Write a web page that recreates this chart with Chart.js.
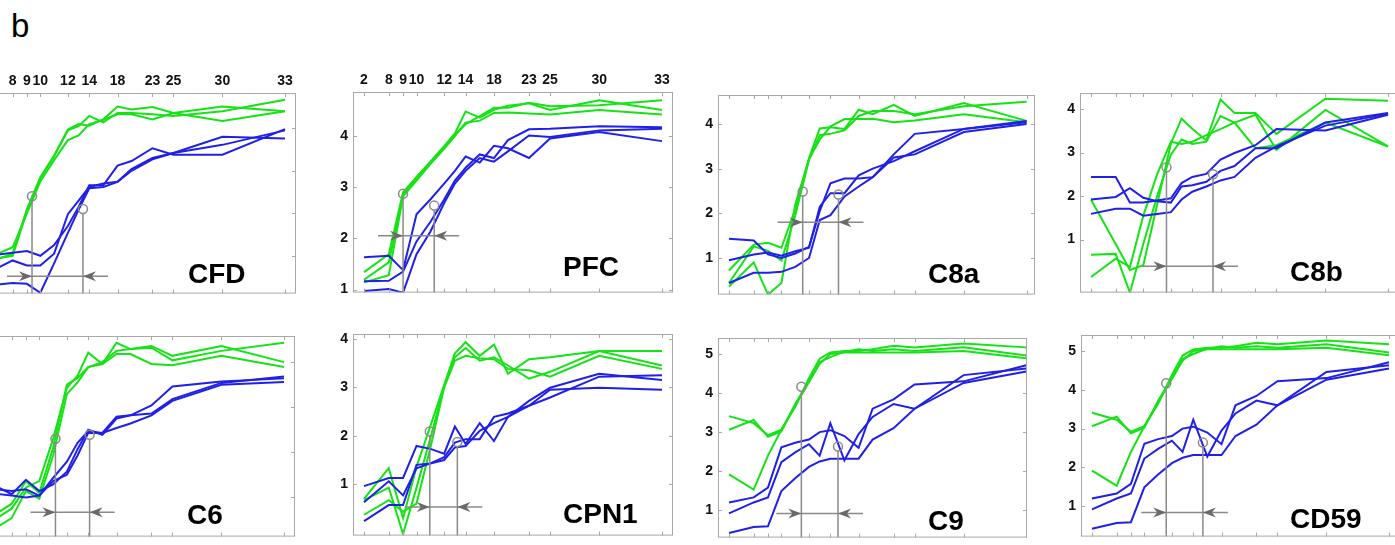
<!DOCTYPE html>
<html lang="en">
<head>
<meta charset="UTF-8" />
<title>Panel b</title>
<script src="https://cdn.jsdelivr.net/npm/chart.js@4.4.0/dist/chart.umd.min.js"></script>
<style>
  html, body { margin: 0; padding: 0; background: #fff; }
  body { position: relative; width: 1395px; height: 545px; overflow: hidden;
         font-family: "Liberation Sans", Arial, Helvetica, sans-serif; }
  .panel { position: absolute; }
  .tag { position: absolute; font-weight: bold; font-size: 28px; line-height: 28px; color: #000; white-space: nowrap; }
  #fig-letter { position: absolute; left: 11px; top: 9px; font-size: 33px; line-height: 33px; color: #000; }
</style>
</head>
<body>
<div id="fig-letter">b</div>
<script>
// sampled ages, and where each one sits on the figure's stretched age axis (0-100)
const ages = [2, 8, 9, 10, 11, 12, 13, 14, 16, 18, 20, 23, 25, 30, 33];
const agePos = [3.44, 11.18, 15.65, 19.85, 24.17, 28.49, 31.84, 35.19, 39.6, 44.05, 48.43, 55.0, 61.58, 76.93, 96.56];
const tickAges = [2, 8, 9, 10, 12, 14, 18, 23, 25, 30, 33];

// three green and three blue curves per gene
const cfdGreen = [
  [0.90, 1.00, 2.05, 2.82, 3.34, 3.97, 4.10, 4.06, 4.21, 4.51, 4.44, 4.50, 4.36, 4.51, 4.40],
  [0.85, 1.05, 2.10, 2.85, 3.36, 3.95, 4.05, 4.29, 4.14, 4.36, 4.36, 4.33, 4.29, 4.40, 4.67],
  [0.95, 1.20, 2.00, 2.75, 3.25, 3.72, 3.83, 4.10, 4.20, 4.33, 4.33, 4.21, 4.36, 4.17, 4.40]
];
const cfdBlue = [
  [1.00, 1.07, 1.11, 1.00, 1.25, 1.70, 2.15, 2.66, 2.66, 3.12, 3.23, 3.53, 3.38, 3.38, 3.98],
  [0.60, 0.89, 0.77, 0.77, 1.05, 1.98, 2.30, 2.62, 2.70, 2.74, 3.04, 3.30, 3.42, 3.61, 3.95],
  [0.30, 0.36, 0.34, 0.13, 0.82, 1.54, 2.08, 2.59, 2.62, 2.74, 3.00, 3.27, 3.42, 3.80, 3.76]
];
const pfcGreen = [
  [1.34, 1.69, 2.90, 3.20, 3.50, 3.80, 4.05, 4.48, 4.36, 4.51, 4.59, 4.64, 4.51, 4.70, 4.51],
  [1.19, 1.53, 2.86, 3.17, 3.48, 3.78, 4.02, 4.23, 4.39, 4.55, 4.55, 4.65, 4.58, 4.60, 4.70],
  [1.14, 1.28, 2.82, 3.13, 3.45, 3.75, 4.00, 4.26, 4.30, 4.45, 4.46, 4.44, 4.42, 4.51, 4.42]
];
const pfcBlue = [
  [1.63, 1.66, 1.38, 2.47, 2.76, 3.07, 3.32, 3.60, 3.48, 3.81, 3.76, 3.57, 3.95, 4.08, 3.90],
  [1.16, 1.17, 1.35, 1.94, 2.32, 2.76, 3.13, 3.38, 3.64, 3.57, 3.92, 4.13, 4.14, 4.19, 4.17],
  [0.97, 1.01, 0.94, 1.69, 2.13, 2.69, 3.07, 3.32, 3.57, 3.50, 3.70, 4.01, 3.98, 4.11, 4.14]
];
const c8aGreen = [
  [0.72, 1.30, 1.34, 1.23, 2.09, 3.24, 3.90, 3.93, 3.89, 4.32, 4.22, 4.43, 4.18, 4.47, 4.07],
  [0.44, 1.26, 1.16, 0.94, 1.95, 3.20, 3.75, 3.78, 3.86, 4.18, 4.29, 4.29, 4.22, 4.40, 4.50],
  [0.36, 0.90, 0.18, 0.44, 2.20, 3.22, 3.65, 3.95, 4.11, 4.11, 4.12, 4.04, 4.08, 4.22, 4.04]
];
const c8aBlue = [
  [1.43, 1.39, 1.08, 1.00, 1.10, 1.25, 2.05, 2.67, 2.78, 2.78, 2.81, 3.32, 3.78, 3.89, 4.07],
  [0.95, 1.08, 1.12, 1.05, 1.15, 1.23, 2.15, 2.45, 2.45, 2.85, 3.00, 3.17, 3.39, 3.89, 4.04],
  [0.44, 0.67, 0.67, 0.69, 0.80, 1.00, 1.85, 1.96, 2.38, 2.60, 2.81, 3.25, 3.32, 3.82, 4.00]
];
const c8bGreen = [
  [1.92, 0.90, 0.30, 0.41, 1.80, 3.21, 3.78, 3.55, 3.28, 4.22, 3.91, 3.91, 3.43, 4.24, 4.19],
  [0.65, 0.67, -0.22, 0.90, 2.00, 2.95, 3.30, 3.20, 3.25, 3.84, 3.69, 3.87, 3.06, 3.98, 3.14],
  [0.14, 0.56, 0.37, 1.55, 2.50, 3.25, 3.20, 3.25, 3.40, 3.54, 3.69, 3.10, 3.17, 3.69, 3.14]
];
const c8bBlue = [
  [2.44, 2.44, 1.85, 1.85, 1.90, 1.95, 2.30, 2.44, 2.51, 2.84, 2.99, 3.17, 3.54, 3.51, 3.87],
  [1.92, 1.98, 2.18, 1.96, 1.88, 1.85, 2.22, 2.25, 2.33, 2.58, 2.69, 3.10, 3.10, 3.69, 3.91],
  [1.59, 1.71, 1.71, 1.55, 1.59, 1.63, 1.92, 2.10, 2.22, 2.36, 2.44, 2.88, 3.14, 3.62, 3.89]
];
const c6Green = [
  [0.40, 0.75, 1.22, 1.36, 2.30, 3.43, 3.70, 4.21, 3.96, 4.43, 4.29, 4.36, 4.14, 4.36, 4.00],
  [0.50, 0.86, 1.36, 1.10, 2.10, 3.50, 3.65, 3.89, 4.00, 4.25, 4.29, 4.32, 4.04, 4.25, 4.43],
  [0.20, 0.54, 1.14, 0.97, 1.93, 3.29, 3.55, 3.89, 3.96, 4.18, 4.18, 3.96, 3.93, 4.14, 3.89]
];
const c6Blue = [
  [1.35, 1.07, 1.39, 1.14, 1.29, 1.57, 2.07, 2.50, 2.39, 2.75, 2.82, 3.04, 3.46, 3.57, 3.64],
  [1.20, 1.14, 1.18, 1.04, 1.43, 1.79, 2.21, 2.47, 2.43, 2.79, 2.82, 2.86, 3.18, 3.54, 3.68],
  [1.10, 1.04, 1.00, 1.04, 1.36, 1.50, 1.93, 2.43, 2.43, 2.54, 2.64, 2.82, 3.14, 3.50, 3.56]
];
const cpn1Green = [
  [0.70, 1.33, 0.30, 1.36, 2.20, 3.05, 3.70, 3.93, 3.65, 3.88, 3.28, 3.58, 3.62, 3.75, 3.75],
  [0.67, 0.93, -0.03, 0.93, 1.95, 3.02, 3.62, 3.81, 3.55, 3.62, 3.45, 3.18, 3.32, 3.75, 3.45],
  [0.37, 0.67, 0.43, 0.60, 1.75, 3.00, 3.55, 3.65, 3.60, 3.58, 3.38, 3.35, 3.22, 3.65, 3.38]
];
const cpn1Blue = [
  [0.96, 1.13, 1.13, 1.79, 1.73, 1.63, 2.19, 1.83, 2.26, 1.89, 2.39, 2.72, 2.99, 3.28, 3.15],
  [0.63, 1.06, 0.77, 1.33, 1.43, 1.56, 1.86, 1.93, 1.93, 2.39, 2.46, 2.62, 2.79, 3.22, 3.25],
  [0.24, 0.57, 0.57, 1.40, 1.43, 1.50, 1.76, 1.79, 2.10, 2.26, 2.39, 2.62, 2.95, 2.99, 2.95]
];
const c9Green = [
  [3.41, 3.23, 2.92, 3.06, 3.64, 4.38, 4.88, 5.04, 5.08, 5.08, 5.12, 5.21, 5.17, 5.27, 5.17],
  [3.06, 3.31, 2.88, 3.02, 3.72, 4.30, 4.79, 4.92, 5.06, 5.12, 5.08, 5.12, 5.08, 5.17, 4.96],
  [1.92, 1.53, 2.40, 3.06, 3.68, 4.28, 4.75, 5.00, 5.04, 5.04, 5.04, 5.04, 5.04, 5.08, 4.89]
];
const c9Blue = [
  [1.20, 1.33, 1.58, 2.61, 2.73, 2.81, 3.00, 3.05, 2.90, 2.60, 3.60, 3.84, 4.22, 4.30, 4.71],
  [0.92, 1.20, 1.33, 2.23, 2.48, 2.69, 2.40, 3.23, 2.28, 2.95, 3.39, 3.72, 3.60, 4.46, 4.63],
  [0.42, 0.57, 0.59, 1.49, 1.82, 2.11, 2.25, 2.32, 2.32, 2.32, 2.81, 3.10, 3.60, 4.26, 4.55]
];
// CD59 curves look the same as C9 in the figure
const cd59Green = c9Green;
const cd59Blue = c9Blue;

// onset markers: age + level of the green/blue circles, level of the arrow
const cfdMarks  = { greenAge: 9.38,  greenY: 2.40, blueAge: 13.41, blueY: 2.10, arrowY: 0.52 };
const pfcMarks  = { greenAge: 9.0,   greenY: 2.87, blueAge: 11.28, blueY: 2.64, arrowY: 2.05 };
const c8aMarks  = { greenAge: 11.54, greenY: 2.49, blueAge: 15.14, blueY: 2.42, arrowY: 1.80 };
const c8bMarks  = { greenAge: 11.68, greenY: 2.66, blueAge: 16.94, blueY: 2.50, arrowY: 0.385 };
const c6Marks   = { greenAge: 11.17, greenY: 2.30, blueAge: 14.19, blueY: 2.39, arrowY: 0.67 };
const cpn1Marks = { greenAge: 10.96, greenY: 2.09, blueAge: 13.23, blueY: 1.87, arrowY: 0.53 };
const c9Marks   = { greenAge: 11.45, greenY: 4.16, blueAge: 15.09, blueY: 2.63, arrowY: 0.92 };
const cd59Marks = { greenAge: 11.59, greenY: 4.17, blueAge: 15.37, blueY: 2.64, arrowY: 0.84 };

// layout: box = [left, top, width, height] of the plot frame, tag = [left, top] of the gene name
const panels = [
  { name: 'CFD',  green: cfdGreen,  blue: cfdBlue,  marks: cfdMarks,  yMin: 0.11,  yMax: 4.83, xMax: 100,  topLabels: true,  box: [-23, 93, 319, 208],  tag: [188, 260] },
  { name: 'PFC',  green: pfcGreen,  blue: pfcBlue,  marks: pfcMarks,  yMin: 0.94,  yMax: 4.86, xMax: 100,  topLabels: true,  box: [353, 92, 320, 208],  tag: [563, 253] },
  { name: 'C8a',  green: c8aGreen,  blue: c8aBlue,  marks: c8aMarks,  yMin: 0.18,  yMax: 4.65, xMax: 99.2, topLabels: false, box: [718, 95, 317, 207],  tag: [928, 260] },
  { name: 'C8b',  green: c8bGreen,  blue: c8bBlue,  marks: c8bMarks,  yMin: -0.22, yMax: 4.37, xMax: 100,  topLabels: false, box: [1080, 93, 319, 207], tag: [1290, 258] },
  { name: 'C6',   green: c6Green,   blue: c6Blue,   marks: c6Marks,   yMin: 0.13,  yMax: 4.58, xMax: 100,  topLabels: false, box: [-24, 336, 319, 208], tag: [187, 501] },
  { name: 'CPN1', green: cpn1Green, blue: cpn1Blue, marks: cpn1Marks, yMin: -0.06, yMax: 4.10, xMax: 100,  topLabels: false, box: [353, 334, 320, 209], tag: [563, 500] },
  { name: 'C9',   green: c9Green,   blue: c9Blue,   marks: c9Marks,   yMin: 0.30,  yMax: 5.41, xMax: 96.8, topLabels: false, box: [718, 338, 309, 207], tag: [928, 507] },
  { name: 'CD59', green: cd59Green, blue: cd59Blue, marks: cd59Marks, yMin: 0.22,  yMax: 5.41, xMax: 100,  topLabels: false, box: [1081, 335, 319, 209], tag: [1290, 505] }
];

const PAD_L = 40, PAD_T = 30, PAD_R = 6, PAD_B = 6;
const GREEN = '#16e316';
const BLUE = '#2020e8';
const tickFont = { family: '"Liberation Sans", Arial, sans-serif', size: 14, weight: 'bold' };

// age -> position on the stretched axis
function toPos(age) {
  for (let i = 1; i < ages.length; i++) {
    if (age <= ages[i]) {
      const t = (age - ages[i - 1]) / (ages[i] - ages[i - 1]);
      return agePos[i - 1] + t * (agePos[i] - agePos[i - 1]);
    }
  }
  return agePos[agePos.length - 1];
}

function arrowHead(ctx, tx, ty, dir) {
  ctx.beginPath();
  ctx.moveTo(tx, ty);
  ctx.lineTo(tx - dir * 13, ty - 5);
  ctx.lineTo(tx - dir * 9, ty);
  ctx.lineTo(tx - dir * 13, ty + 5);
  ctx.closePath();
  ctx.fill();
}

// frame, inward ticks, onset lines, circles and arrow
const panelDecor = {
  id: 'panelDecor',
  afterDatasetsDraw(chart, args, opts) {
    const { ctx, chartArea: a } = chart;
    const x = chart.scales.x, y = chart.scales.y;
    const m = opts.marks;
    ctx.save();

    const gx = x.getPixelForValue(toPos(m.greenAge));
    const bx = x.getPixelForValue(toPos(m.blueAge));
    const ay = y.getPixelForValue(m.arrowY);
    ctx.lineWidth = 1.5;
    ctx.strokeStyle = '#8a8a8a';
    [[gx, y.getPixelForValue(m.greenY)], [bx, y.getPixelForValue(m.blueY)]].forEach(([px, py]) => {
      ctx.beginPath();
      ctx.moveTo(px, py + 4.5);
      ctx.lineTo(px, a.bottom);
      ctx.stroke();
      ctx.beginPath();
      ctx.arc(px, py, 4.5, 0, Math.PI * 2);
      ctx.stroke();
    });
    ctx.beginPath();
    ctx.moveTo(gx - 25, ay);
    ctx.lineTo(bx + 25, ay);
    ctx.stroke();
    ctx.fillStyle = '#6a6a6a';
    arrowHead(ctx, gx, ay, 1);
    arrowHead(ctx, bx, ay, -1);

    ctx.lineWidth = 1;
    ctx.strokeStyle = '#a8a8a8';
    ctx.strokeRect(a.left + 0.5, a.top + 0.5, a.width - 1, a.height - 1);
    ctx.beginPath();
    tickAges.forEach(t => {
      const px = Math.round(x.getPixelForValue(toPos(t))) + 0.5;
      ctx.moveTo(px, a.top); ctx.lineTo(px, a.top + 4);
      ctx.moveTo(px, a.bottom); ctx.lineTo(px, a.bottom - 4);
    });
    y.ticks.forEach(t => {
      const py = Math.round(y.getPixelForValue(t.value)) + 0.5;
      ctx.moveTo(a.left, py); ctx.lineTo(a.left + 4, py);
      ctx.moveTo(a.right, py); ctx.lineTo(a.right - 4, py);
    });
    ctx.stroke();
    ctx.restore();
  }
};

function curve(vals, color) {
  return {
    data: vals.map((v, i) => ({ x: agePos[i], y: v })),
    borderColor: color,
    borderWidth: 2,
    pointRadius: 0,
    tension: 0,
    fill: false
  };
}

panels.forEach(p => {
  const [left, top, w, h] = p.box;
  const div = document.createElement('div');
  div.className = 'panel';
  div.style.left = (left - PAD_L) + 'px';
  div.style.top = (top - PAD_T) + 'px';
  const canvas = document.createElement('canvas');
  canvas.width = w + PAD_L + PAD_R;
  canvas.height = h + PAD_T + PAD_B;
  div.appendChild(canvas);
  document.body.appendChild(div);

  const tag = document.createElement('div');
  tag.className = 'tag';
  tag.textContent = p.name;
  tag.style.left = p.tag[0] + 'px';
  tag.style.top = p.tag[1] + 'px';
  document.body.appendChild(tag);

  new Chart(canvas, {
    type: 'line',
    data: {
      datasets: [
        ...p.blue.map(v => curve(v, BLUE)),
        ...p.green.map(v => curve(v, GREEN))
      ]
    },
    options: {
      responsive: false,
      animation: false,
      events: [],
      layout: { padding: { left: 0, top: 0, right: PAD_R, bottom: PAD_B } },
      plugins: { legend: { display: false }, tooltip: { enabled: false }, panelDecor: { marks: p.marks } },
      scales: {
        x: {
          type: 'linear',
          position: 'top',
          min: 0,
          max: p.xMax,
          grid: { display: false, drawTicks: false },
          border: { display: false },
          afterBuildTicks: s => { s.ticks = tickAges.map(a => ({ value: toPos(a) })); },
          afterFit: s => { s.height = PAD_T; },
          ticks: {
            display: p.topLabels,
            autoSkip: false,
            maxRotation: 0,
            padding: 3,
            color: '#111',
            font: tickFont,
            callback: (v, i) => tickAges[i]
          }
        },
        y: {
          type: 'linear',
          min: p.yMin,
          max: p.yMax,
          grid: { display: false, drawTicks: false },
          border: { display: false },
          // integer ticks from 1 up, as in the figure
          afterBuildTicks: s => {
            const t = [];
            for (let v = Math.max(1, Math.ceil(s.min)); v <= s.max; v++) t.push({ value: v });
            s.ticks = t;
          },
          afterFit: s => { s.width = PAD_L; },
          ticks: { padding: 5, color: '#111', font: tickFont, callback: v => v }
        }
      }
    },
    plugins: [panelDecor]
  });
});
</script>
</body>
</html>
